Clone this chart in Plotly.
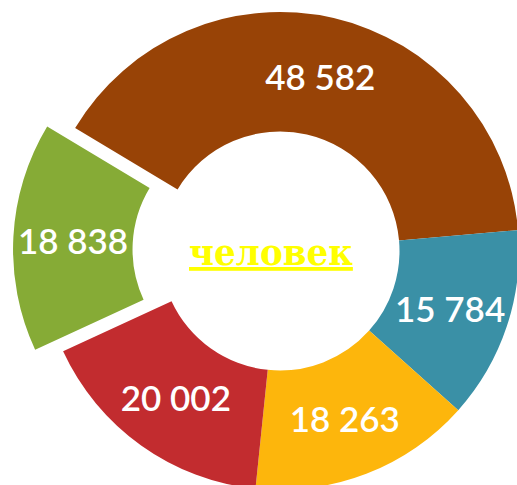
import math
import plotly.graph_objects as go

# ---- data ----
categories = ["Группа 1", "Группа 2", "Группа 3", "Группа 4", "Группа 5"]
values = [48582, 15784, 18263, 20002, 18838]
colors = ["#984306", "#3A90A6", "#FDB60C", "#C22C2F", "#86AB36"]
pulled = [False, False, False, False, True]
center_label = "человек"

# ---- layout parameters (pixels) ----
# the reference ring is cropped by the window on the right and bottom,
# so the figure is a little larger than the 517x485 window
W, H = 522, 492
CX, CY, R = 280, 251, 239
PULL_PX = 28
ROTATION = -59
HOLE = 0.5
TRANSPARENT = "rgba(0,0,0,0)"
LABEL_FONT = dict(family="Lato", size=35, color="white", weight=600)


def fmt(v):
    return f"{v:,}".replace(",", " ")


def domain_for(cx, cy, r):
    x0 = max(0.0, (cx - r) / W)
    x1 = min(1.0, (cx + r) / W)
    y0 = max(0.0, 1 - (cy + r) / H)
    y1 = min(1.0, 1 - (cy - r) / H)
    return dict(x=[x0, x1], y=[y0, y1])


total = sum(values)
fig = go.Figure()

# main ring (non-pulled slices)
fig.add_trace(go.Pie(
    labels=categories,
    values=values,
    sort=False,
    direction="clockwise",
    rotation=ROTATION,
    hole=HOLE,
    marker=dict(colors=[TRANSPARENT if p else c for c, p in zip(colors, pulled)],
                line=dict(width=0)),
    text=["" if p else fmt(v) for v, p in zip(values, pulled)],
    textinfo="text",
    textposition="inside",
    insidetextorientation="horizontal",
    textfont=LABEL_FONT,
    hoverinfo="none",
    showlegend=False,
    domain=domain_for(CX, CY, R),
))

# pulled slices: same ring translated outward along their bisector
cum = 0
for i, (v, p) in enumerate(zip(values, pulled)):
    if p:
        mid = math.radians(ROTATION + 360 * (cum + v / 2) / total)
        dx = PULL_PX * math.sin(mid)
        dy = -PULL_PX * math.cos(mid)
        fig.add_trace(go.Pie(
            labels=categories,
            values=values,
            sort=False,
            direction="clockwise",
            rotation=ROTATION,
            hole=HOLE,
            marker=dict(colors=[c if j == i else TRANSPARENT for j, c in enumerate(colors)],
                        line=dict(width=0)),
            text=[fmt(val) if j == i else "" for j, val in enumerate(values)],
            textinfo="text",
            textposition="inside",
            insidetextorientation="horizontal",
            textfont=LABEL_FONT,
            hoverinfo="none",
            showlegend=False,
            domain=domain_for(CX + dx, CY + dy, R),
        ))
    cum += v

fig.add_annotation(
    x=271 / W, y=1 - 251 / H, xref="paper", yref="paper",
    text=f"<u>{center_label}</u>",
    showarrow=False,
    font=dict(family="DejaVu Serif Condensed, DejaVu Serif", size=38,
              color="#FFFF00", weight="bold"),
)

fig.update_layout(
    width=W, height=H,
    margin=dict(l=0, r=0, t=0, b=0),
    paper_bgcolor="white",
    plot_bgcolor="white",
    uniformtext=dict(minsize=35, mode="show"),
    showlegend=False,
)

fig.write_html(
    "out.html",
    config={"displayModeBar": False},
    post_script="document.body.style.margin='0';document.body.style.overflow='hidden';",
)
